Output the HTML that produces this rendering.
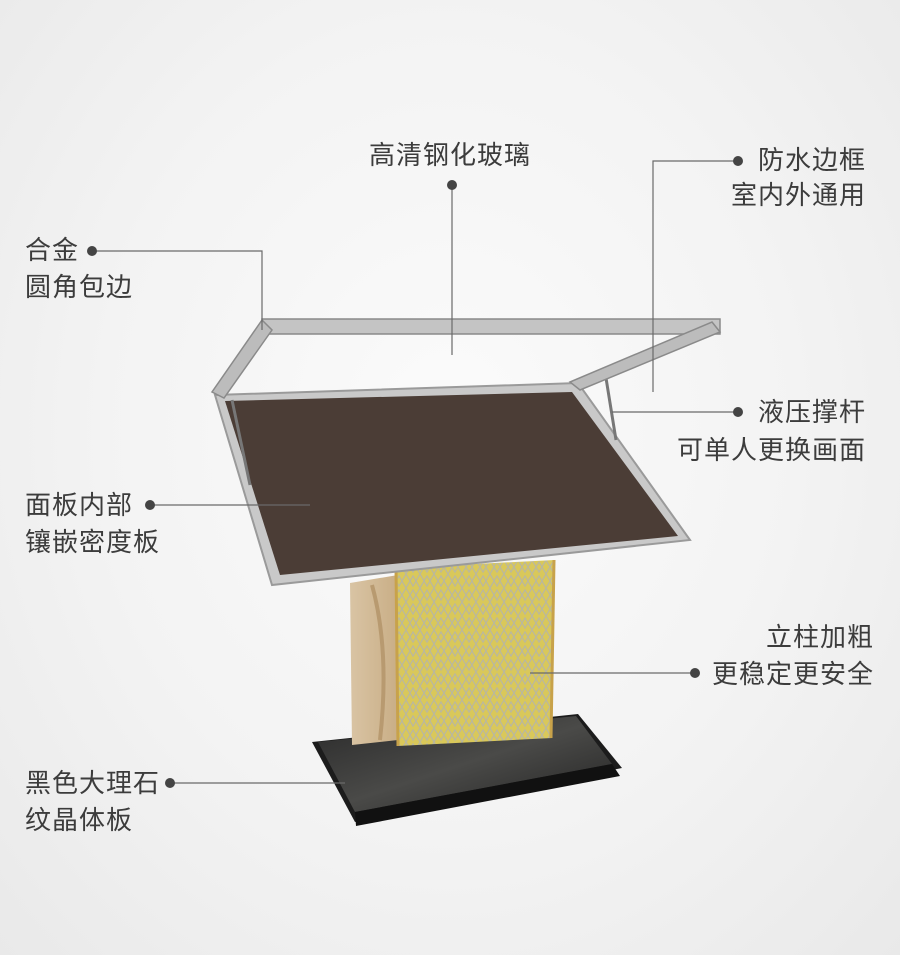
<!DOCTYPE html>
<html><head><meta charset="utf-8"><style>
html,body{margin:0;padding:0}
body{width:900px;height:955px;overflow:hidden;background:radial-gradient(ellipse at 50% 45%,#fbfbfb 0%,#f3f3f3 55%,#e9e9e9 100%);position:relative;font-family:"Liberation Sans","Noto Sans CJK SC",sans-serif;color:#3c3c3c}
.t{position:absolute;font-size:26px;letter-spacing:1px;line-height:37px;white-space:nowrap}
svg{position:absolute;left:0;top:0}
</style></head><body>
<svg width="900" height="955" viewBox="0 0 900 955">
<defs>
<pattern id="p" width="14" height="14" patternUnits="userSpaceOnUse">
<rect width="14" height="14" fill="#d9c85a"/>
<path d="M0 0L7 12L14 0M0 14L7 2L14 14" stroke="#b9b7a0" stroke-width="1.2" fill="none"/>
</pattern>
<linearGradient id="g1" x1="0" x2="1"><stop offset="0" stop-color="#d9c4a4"/><stop offset="1" stop-color="#c9ae86"/></linearGradient>
<linearGradient id="m" x1="0" x2="1" y1="0" y2="1"><stop offset="0" stop-color="#2a2a2a"/><stop offset=".5" stop-color="#4a4a48"/><stop offset="1" stop-color="#222"/></linearGradient>
</defs>
<polygon points="312,742 578,714 622,768 355,822" fill="#1c1c1c"/>
<polygon points="318,742 576,716 612,764 355,812" fill="url(#m)"/>
<polygon points="355,812 612,764 620,776 356,826" fill="#111"/>
<polygon points="350,583 398,575 398,740 352,745" fill="url(#g1)"/>
<path d="M372,585 Q390,650 380,740" stroke="#b89a70" stroke-width="4" fill="none"/>
<polygon points="395,568 555,560 552,738 398,746" fill="url(#p)"/>
<line x1="396" y1="568" x2="398" y2="746" stroke="#c8a24a" stroke-width="3"/>
<line x1="554" y1="560" x2="551" y2="738" stroke="#c8a24a" stroke-width="3"/>
<polygon points="215,395 578,383 690,540 272,585" fill="#c9c9c9"/>
<polygon points="225,401 572,392 678,536 280,575" fill="#4b3d36"/>
<polygon points="215,395 578,383 690,540 272,585" fill="none" stroke="#9a9a9a" stroke-width="2"/>
<line x1="232" y1="400" x2="250" y2="485" stroke="#777" stroke-width="3"/>
<line x1="606" y1="378" x2="616" y2="440" stroke="#777" stroke-width="3"/>
<polygon points="262,319 720,319 720,334 262,334" fill="#c4c4c4" stroke="#8a8a8a" stroke-width="1.5"/>
<polygon points="262,320 272,330 224,398 212,392" fill="#bcbcbc" stroke="#8a8a8a" stroke-width="1.5"/>
<polygon points="712,322 720,332 580,390 570,382" fill="#bcbcbc" stroke="#8a8a8a" stroke-width="1.5"/>
<g stroke="#6a6a6a" stroke-width="1.2" fill="none">
<path d="M452,185V355"/>
<path d="M738,161H653V392"/>
<path d="M92,251H262V330"/>
<path d="M738,412H612"/>
<path d="M150,505H310"/>
<path d="M695,673H530"/>
<path d="M170,783H345"/>
</g>
<g fill="#444">
<circle cx="452" cy="185" r="5"/><circle cx="738" cy="161" r="5"/><circle cx="92" cy="251" r="5"/>
<circle cx="738" cy="412" r="5"/><circle cx="150" cy="505" r="5"/><circle cx="695" cy="673" r="5"/><circle cx="170" cy="783" r="5"/>
</g>
</svg>
<div class="t" style="left:369px;top:137px">高清钢化玻璃</div>
<div class="t" style="left:758px;top:142px">防水边框</div>
<div class="t" style="right:34px;top:177px">室内外通用</div>
<div class="t" style="left:25px;top:232px">合金<br>圆角包边</div>
<div class="t" style="left:758px;top:394px">液压撑杆</div>
<div class="t" style="right:34px;top:432px">可单人更换画面</div>
<div class="t" style="left:25px;top:487px">面板内部<br>镶嵌密度板</div>
<div class="t" style="right:26px;top:619px;text-align:right">立柱加粗<br>更稳定更安全</div>
<div class="t" style="left:25px;top:765px">黑色大理石<br>纹晶体板</div>
</body></html>
